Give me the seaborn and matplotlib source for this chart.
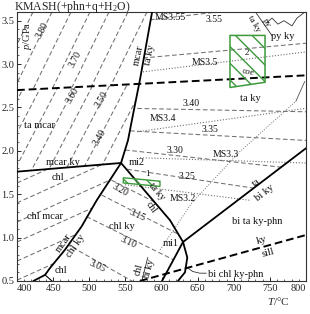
import matplotlib
matplotlib.use("Agg")
import matplotlib.pyplot as plt
import seaborn as sns
import numpy as np
from matplotlib.patches import Polygon
from matplotlib.ticker import MultipleLocator

sns.set_theme(style="ticks")
plt.rcParams["font.family"] = ["Liberation Serif", "DejaVu Serif"]
plt.rcParams["mathtext.fontset"] = "custom"
plt.rcParams["mathtext.rm"] = "Liberation Serif"
plt.rcParams["mathtext.it"] = "Liberation Serif:italic"
plt.rcParams["hatch.color"] = "#3c9a3c"
plt.rcParams["hatch.linewidth"] = 1.0

# ---------------- data (T in degC, P in GPa) ----------------
x_ticks = [400, 450, 500, 550, 600, 650, 700, 750, 800]
y_ticks = [0.5, 1.0, 1.5, 2.0, 2.5, 3.0, 3.5]

mcar_ky_T = [400, 544]
mcar_ky_P = [1.76, 1.86]
mcar_taky_T = [544, 553.6, 559.2, 564.7, 570.2, 587.0]
mcar_taky_P = [1.86, 2.12, 2.36, 2.59, 2.82, 3.60]
mcar_chlky_T = [544, 510.3, 489.5, 466.4, 445.7, 438.8, 422.6]
mcar_chlky_P = [1.86, 1.43, 1.13, 0.86, 0.65, 0.57, 0.50]
chl_taky_T = [544, 588.2, 611.8, 629.8, 635.7, 632.5, 622.8]
chl_taky_P = [1.86, 1.43, 1.20, 0.95, 0.77, 0.60, 0.50]
ta_biky_T = [800, 629.8, 600.7]
ta_biky_P = [2.03, 0.95, 0.50]
coe_q_T = [400, 800]
coe_q_P = [2.70, 2.87]
ky_sill_T = [570, 800]
ky_sill_P = [0.50, 1.03]

# density isopleths: (T1, P1, T2, P2)
iso_coe_left = [(369.5, 3.6, 312.8, 2.64), (395.8, 3.6, 339.1, 2.64), (422.1, 3.6, 365.4, 2.64),
                (448.4, 3.6, 391.7, 2.64), (474.7, 3.6, 418.0, 2.64), (501.0, 3.6, 444.3, 2.64),
                (527.3, 3.6, 470.6, 2.64), (553.6, 3.6, 496.9, 2.64), (579.9, 3.6, 523.2, 2.64)]
iso_q_left = [(342.1, 1.66, 414.9, 2.82), (365.6, 1.66, 438.4, 2.82), (389.2, 1.66, 462.0, 2.82),
              (412.7, 1.66, 485.5, 2.82), (436.2, 1.66, 509.0, 2.82), (459.7, 1.66, 532.5, 2.82),
              (483.3, 1.66, 556.1, 2.82), (506.8, 1.66, 579.6, 2.82), (530.3, 1.66, 603.1, 2.82)]
iso_chl_mcar = [(400, 1.63, 538.4, 2.15), (400, 1.40, 538.4, 1.92), (400, 1.18, 538.4, 1.70),
                (400, 0.95, 538.4, 1.47), (400, 0.73, 538.4, 1.25), (400, 0.51, 538.4, 1.03),
                (400, 0.28, 538.4, 0.80)]
iso_chl_ky = [(521.8, 1.70, 611.8, 1.32), (508.0, 1.53, 639.5, 0.97),
              (487.2, 1.28, 639.5, 0.65), (459.5, 0.97, 563.3, 0.48)]
iso_taky_q = [(556.4, 2.49, 800, 2.45), (556.4, 2.23, 800, 2.12),
              (549.5, 2.01, 800, 1.78), (542.6, 1.80, 800, 1.48)]
iso_taky_coe = [(584.1, 3.51, 740.0, 3.66), (574.4, 3.07, 800, 3.24)]
# phengite Si isopleths (dotted)
ms_lines = [(574.4, 2.91, 800, 3.14), (566.1, 2.22, 800, 2.49),
            (570.2, 1.92, 800, 1.86), (549.5, 1.61, 722.5, 1.43)]
diag_dotted_T = [598.0, 642.0, 707.0, 785.9]
diag_dotted_P = [0.86, 1.40, 1.98, 2.57]
thin_top_right_T = [785.9, 798.3]
thin_top_right_P = [2.57, 2.80]
py_line_T = [730.1, 753.6]
py_line_P = [3.60, 3.32]
wavy_T = [746.0, 753.0, 761.2, 769.5, 780.6, 787.5, 798.6]
wavy_P = [3.48, 3.53, 3.46, 3.50, 3.44, 3.53, 3.60]
chl_tick_T = [438.8, 449.8]
chl_tick_P = [0.57, 0.49]
bar_T = [572.9, 580.9]
bar_P = [0.50, 0.77]
leader_T = [635.0, 643.0, 653.0, 662.0]
leader_P = [0.66, 0.61, 0.59, 0.59]

# green boxes
box_upper_T = [694.8, 743.3, 743.3, 694.8]
box_upper_P = [3.33, 3.33, 2.79, 2.73]
box_lower_T = [547.1, 597.9, 597.9, 547.1]
box_lower_P = [1.69, 1.65, 1.59, 1.63]

labels = [
    ("3.80", 434.6, 3.39, 62, 7), ("3.70", 480.3, 3.05, 62, 7), ("3.60", 477.5, 2.64, 60, 7),
    ("3.50", 517.6, 2.59, 60, 7), ("3.40", 514.9, 2.16, 60, 7),
    ("ta mcar", 431.8, 2.29, 0, 7.5), ("mcar ky", 463.7, 1.87, 0, 7.5), ("chl", 456.7, 1.69, 0, 7.5),
    ("mi2", 566.1, 1.87, 0, 7.5), ("3.20", 542.6, 1.55, -30, 7), ("1", 579.9, 1.73, 0, 6.5),
    ("mcar", 567.5, 3.10, 78, 7.5), ("ta ky", 584.1, 3.10, 78, 7.5),
    ("MS3.55", 611.8, 3.54, 0, 7), ("3.55", 672.7, 3.51, 0, 7),
    ("ta ky", 728.0, 3.47, -60, 6.5), ("py", 746.0, 3.48, -60, 6.5), ("py ky", 768.2, 3.32, 0, 7.5),
    ("MS3.5", 660.2, 3.02, 0, 7), ("2", 718.3, 3.13, 0, 6.5), ("coe", 719.7, 2.91, -10, 6.5),
    ("ta ky", 722.5, 2.60, 0, 7.5), ("3.40", 640.8, 2.54, 0, 7), ("MS3.4", 602.1, 2.37, 0, 7),
    ("3.35", 667.1, 2.25, 0, 7), ("3.30", 618.7, 2.00, 0, 7), ("MS3.3", 689.3, 1.96, 0, 7),
    ("3.25", 635.3, 1.70, 0, 7), ("MS3.2", 629.8, 1.45, 0, 7),
    ("ta", 730.8, 1.63, 38, 7.5), ("bi ky", 743.3, 1.51, 38, 7.5),
    ("bi ta ky-phn", 732.2, 1.19, 0, 7.5), ("ky", 739.1, 0.97, 15, 7.5), ("sill", 747.4, 0.82, 15, 7.5),
    ("bi chl ky-phn", 703.1, 0.58, 0, 7.5), ("mi1", 613.2, 0.93, 0, 7.5),
    ("chl ky", 545.3, 1.13, 0, 7.5), ("3.15", 566.1, 1.26, -25, 7), ("3.10", 553.6, 0.95, -25, 7),
    ("3.05", 510.7, 0.67, -25, 7), ("chl mcar", 438.8, 1.24, 0, 7.5),
    ("mcar", 465.1, 0.94, 55, 7.5), ("chl ky", 481.7, 0.90, 55, 7.5), ("chl", 460.9, 0.62, 0, 7.5),
    ("chl", 568.9, 0.63, 75, 7), ("bi ky", 583.7, 0.64, 75, 7),
    ("ta ky", 593.8, 1.53, -50, 7), ("chl", 585.5, 1.35, -55, 7),
]

# ---------------- figure ----------------
fig = plt.figure(figsize=(3.10, 3.14), dpi=100)
ax = fig.add_axes([17 / 310, 1 - 281 / 314, 289 / 310, 269 / 314])
ax.set_xlim(400, 800)
ax.set_ylim(0.5, 3.6)


def draw(T, P, color="black", lw=1.3, dashes=None, clip=None, zorder=3):
    sns.lineplot(x=list(T), y=list(P), sort=False, estimator=None, ax=ax,
                 color=color, linewidth=lw, zorder=zorder)
    ln = ax.lines[-1]
    if dashes is not None:
        ln.set_dashes(dashes)
    if clip is not None:
        ln.set_clip_path(clip)
    return ln


def clip_half(poly, keep_above):
    a0, a1 = coe_q_P
    t0, t1 = coe_q_T

    def side(p):
        lineP = a0 + (a1 - a0) * (p[0] - t0) / (t1 - t0)
        return (p[1] - lineP) if keep_above else (lineP - p[1])

    out = []
    n = len(poly)
    for i in range(n):
        cur, nxt = poly[i], poly[(i + 1) % n]
        sc, sn = side(cur), side(nxt)
        if sc >= 0:
            out.append(cur)
        if (sc >= 0) != (sn >= 0):
            f = sc / (sc - sn)
            out.append((cur[0] + f * (nxt[0] - cur[0]), cur[1] + f * (nxt[1] - cur[1])))
    return out


def patch(poly):
    pp = Polygon(poly, closed=True, transform=ax.transData, fill=False, visible=False)
    ax.add_patch(pp)
    return pp


mcar_taky = list(zip(mcar_taky_T, mcar_taky_P))
chl_taky = list(zip(chl_taky_T, chl_taky_P))
mcar_chlky = list(zip(mcar_chlky_T, mcar_chlky_P))
ta_biky = list(zip(ta_biky_T, ta_biky_P))

left_upper = [(400, 3.6)] + mcar_taky[::-1] + [(400, mcar_ky_P[0])]
right_upper = [(800, 3.6), (800, ta_biky_P[0])] + ta_biky[:2] + chl_taky[:4][::-1] + mcar_taky
R1 = patch(clip_half(left_upper, True))
R2 = patch(clip_half(left_upper, False))
R5 = patch(clip_half(right_upper, True))
R6 = patch(clip_half(right_upper, False))
R3 = patch([(400, mcar_ky_P[0])] + mcar_chlky + [(400, 0.5)])
R4 = patch(chl_taky[:4] + ta_biky[1:] + mcar_chlky[::-1])

grey = "#707070"
iso_kw = dict(color=grey, lw=0.75, dashes=(4.5, 2.5), zorder=2)
for group, reg in [(iso_coe_left, R1), (iso_q_left, R2), (iso_chl_mcar, R3),
                   (iso_chl_ky, R4), (iso_taky_q, R6), (iso_taky_coe, R5)]:
    for (t1, p1, t2, p2) in group:
        draw([t1, t2], [p1, p2], clip=reg, **iso_kw)

for (t1, p1, t2, p2) in ms_lines:
    draw([t1, t2], [p1, p2], color=grey, lw=0.8, dashes=(1, 1.6), zorder=2)
draw(diag_dotted_T, diag_dotted_P, color=grey, lw=0.7, dashes=(1, 1.6), zorder=2)
draw(thin_top_right_T, thin_top_right_P, color="#555555", lw=0.6, zorder=2)
draw(py_line_T, py_line_P, color="#333333", lw=0.6, zorder=2)
draw(wavy_T, wavy_P, color="#333333", lw=0.6, zorder=2)
draw(chl_tick_T, chl_tick_P, color="black", lw=0.8, zorder=3)
draw(bar_T, bar_P, color="#333333", lw=0.6, zorder=3)
draw(leader_T, leader_P, color="#333333", lw=0.6, zorder=3)

# thick boundaries
draw(mcar_ky_T, mcar_ky_P)
draw(mcar_taky_T, mcar_taky_P)
draw(mcar_chlky_T, mcar_chlky_P)
draw(chl_taky_T, chl_taky_P)
draw(ta_biky_T, ta_biky_P)
draw(coe_q_T, coe_q_P, lw=1.4, dashes=(4, 2))
draw(ky_sill_T, ky_sill_P, lw=1.4, dashes=(4, 2))

# green boxes
green = "#3c9a3c"
ax.add_patch(Polygon(list(zip(box_upper_T, box_upper_P)), closed=True, fill=False,
                     edgecolor=green, lw=1.1, hatch="\\\\", zorder=4))
ax.add_patch(Polygon(list(zip(box_lower_T, box_lower_P)), closed=True, fill=False,
                     edgecolor=green, lw=1.0, hatch="\\\\\\", zorder=4))

for (s, t, p, r, fs) in labels:
    ax.text(t, p, s, ha="center", va="center", rotation=r, fontsize=fs, color="#111111",
            rotation_mode="anchor", zorder=5)

ax.text(415.2, 3.33, "$p$/GPa", rotation=90, ha="center", va="center", fontsize=7.5)

ax.set_xticks(x_ticks)
ax.set_yticks(y_ticks)
ax.set_xticklabels([str(v) for v in x_ticks])
ax.set_yticklabels([f"{v:.1f}" for v in y_ticks])
ax.xaxis.set_minor_locator(MultipleLocator(10))
ax.yaxis.set_minor_locator(MultipleLocator(0.1))
ax.tick_params(which="both", direction="in", top=False, right=False, labelsize=7.5, pad=2)
ax.tick_params(which="major", length=3, width=0.7)
ax.tick_params(which="minor", length=1.6, width=0.5)
ax.xaxis.get_major_ticks()[-1].label1.set_horizontalalignment("right")
ax.xaxis.get_major_ticks()[0].label1.set_horizontalalignment("left")
for sp in ax.spines.values():
    sp.set_linewidth(0.8)
    sp.set_color("#333333")
ax.set_xlabel("")
ax.set_ylabel("")

fig.text(72 / 310, 1 - 7 / 314, "KMASH(+phn+q+H$_2$O)", ha="center", va="center", fontsize=8.5)
fig.text(278 / 310, 1 - 301 / 314, "$T$/°C", ha="center", va="center", fontsize=8)

fig.savefig("out.png", dpi=100)
